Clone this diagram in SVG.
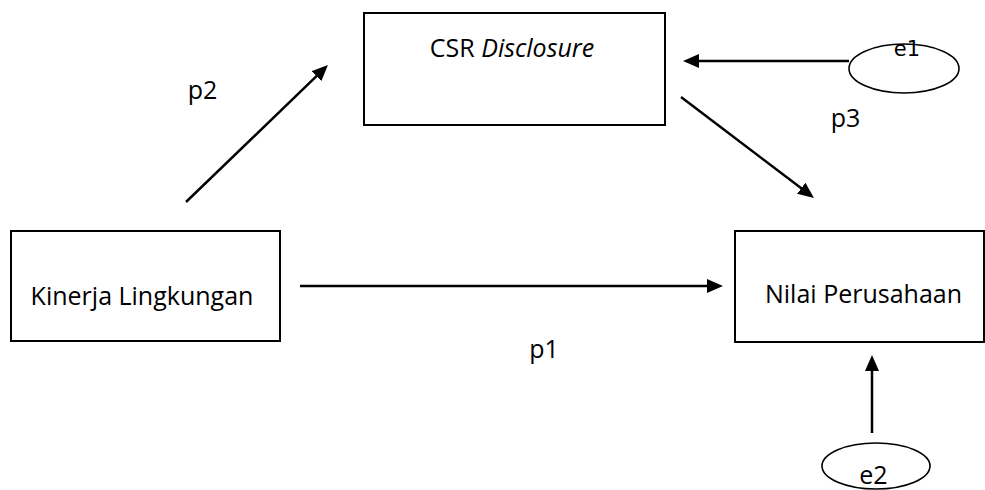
<svg xmlns="http://www.w3.org/2000/svg" width="985" height="490" viewBox="0 0 985 490">
<style>
.box{fill:#fff;stroke:#000;stroke-width:2}
.ell{fill:#fff;stroke:#000;stroke-width:1.6}
.t{font-family:"Open Sans","Noto Sans",sans-serif;font-size:25px;fill:#000;text-anchor:middle}
.te{font-family:"DejaVu Sans",sans-serif;font-size:21px;fill:#000;text-anchor:middle}
.c{stroke:#000;stroke-width:2.5;fill:none;marker-end:url(#ah)}
</style>
<defs>
<marker id="ah" markerUnits="userSpaceOnUse" markerWidth="18" markerHeight="14" refX="3" refY="7" orient="auto">
<path d="M0,0 L16,7 L0,14 z" fill="#000"/>
</marker>
</defs>
<g id="connectors">
<line class="c" x1="849" y1="61" x2="696" y2="61"/>
<line class="c" x1="681" y1="97" x2="803.6" y2="190.1"/>
<line class="c" x1="186" y1="202" x2="318.6" y2="74.1"/>
<line class="c" x1="300" y1="286" x2="710" y2="286"/>
<line class="c" x1="872" y1="433" x2="872" y2="368"/>
</g>
<g id="csr">
<rect class="box" x="364" y="13" width="301" height="112"/>
<text class="t" x="512" y="57">CSR <tspan font-style="italic">Disclosure</tspan></text>
</g>
<g id="kinerja">
<rect class="box" x="11" y="231" width="269" height="110"/>
<text class="t" x="142" y="305">Kinerja Lingkungan</text>
</g>
<g id="nilai">
<rect class="box" x="735" y="231" width="249" height="111"/>
<text class="t" x="863.5" y="303">Nilai Perusahaan</text>
</g>
<g id="e1">
<ellipse class="ell" cx="904" cy="68.5" rx="55" ry="24.5"/>
<text class="te" x="907" y="56">e1</text>
</g>
<g id="e2">
<ellipse class="ell" cx="876" cy="466" rx="54" ry="23"/>
<text class="t" x="873.5" y="484">e2</text>
</g>
<g id="labels">
<text class="t" x="202.5" y="99">p2</text>
<text class="t" x="845.5" y="127">p3</text>
<text class="t" x="544" y="358">p1</text>
</g>
</svg>
